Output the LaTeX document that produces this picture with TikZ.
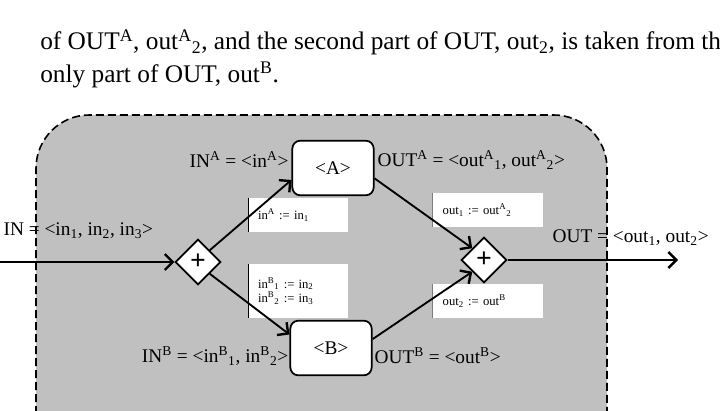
\documentclass[tikz,border=0pt]{standalone}
\usepackage{fontspec}
\setmainfont{Liberation Serif}
\usetikzlibrary{shapes.geometric, arrows.meta, positioning, calc}
\definecolor{regiongray}{HTML}{C0C0C0}
\newcommand{\hi}[1]{\textsuperscript{#1}}
\newcommand{\lo}[1]{\textsubscript{#1}}

\begin{document}
\begin{tikzpicture}[x=0.75pt, y=-0.75pt,
    task/.style={rectangle, rounded corners=6pt, draw, line width=1.3pt, fill=white, minimum width=61pt, minimum height=41pt, font=\fontsize{14.5}{17}\selectfont},
    gate/.style={diamond, draw, line width=1.3pt, fill=white, minimum width=34pt, minimum height=34pt, inner sep=0pt},
    note/.style={rectangle, fill=white, minimum width=75pt, align=left, font=\fontsize{9.5}{11}\selectfont, path picture={\draw[line width=1pt] (path picture bounding box.north west) -- (path picture bounding box.south west);}},
    lbl/.style={font=\fontsize{14.5}{17}\selectfont, inner sep=1pt},
    flow/.style={-{Straight Barb[length=6pt, width=12pt, line width=1.8pt]}, line width=1.4pt}
]
\useasboundingbox (0,0) rectangle (720,410);
\clip (0,0) rectangle (720,410);

% Paragraph text
\node[anchor=base west, inner sep=0pt, font=\fontsize{19}{22}\selectfont] (par1) at (40,50) {of OUT\hi{A}, out\hi{A}\lo{2}, and the second part of OUT, out\lo{2}, is taken from the};
\node[anchor=base west, inner sep=0pt, font=\fontsize{19}{22}\selectfont] (par2) at (40,82) {only part of OUT, out\hi{B}.};

% Region
\draw[dashed, line width=1.2pt, fill=regiongray, rounded corners=40pt, dash pattern=on 6pt off 3pt] (36,450) -- (36,115) -- (607,115) -- (607,450);

% Notes
\node[note, minimum height=26pt, text width=60pt] (noteA) at (298,215) {in\hi{A} := in\lo{1}};
\node[note, minimum height=40pt, text width=60pt] (noteB) at (298,291) {in\hi{B}\lo{1} := in\lo{2}\\in\hi{B}\lo{2} := in\lo{3}};
\node[note, minimum width=83pt, minimum height=26pt, text width=68pt] (noteO1) at (488,210) {out\lo{1} := out\hi{A}\lo{2}};
\node[note, minimum width=83pt, minimum height=26pt, text width=68pt] (noteO2) at (488,301) {out\lo{2} := out\hi{B}};

% Tasks and gates
\node[task] (A) at (333,168) {<A>};
\node[task] (B) at (331,348) {<B>};
\node[gate] (split) at (198,262) {\huge\bfseries +};
\node[gate] (join) at (484,260) {\huge\bfseries +};
\coordinate (start) at (0,262);
\coordinate (end) at (678,260);

% Labels
\node[lbl, anchor=west] (inlbl) at (2,231) {IN = <in\lo{1}, in\lo{2}, in\lo{3}>};
\node[lbl, anchor=east] (inA) at (290,160) {IN\hi{A} = <in\hi{A}>};
\node[lbl, anchor=west] (outA) at (376,160) {OUT\hi{A} = <out\hi{A}\lo{1}, out\hi{A}\lo{2}>};
\node[lbl, anchor=east] (inB) at (290,356) {IN\hi{B} = <in\hi{B}\lo{1}, in\hi{B}\lo{2}>};
\node[lbl, anchor=west] (outB) at (373,356) {OUT\hi{B} = <out\hi{B}>};
\node[lbl, anchor=west] (outlbl) at (551,238) {OUT = <out\lo{1}, out\lo{2}>};

% Flows
\draw[flow] (start) -- (split);
\draw[flow] (split.north east) -- (A.196);
\draw[flow] (split.south east) -- (B.162);
\draw[flow] (A.-14) -- (join.north west);
\draw[flow] (B.12) -- (join.south west);
\draw[flow] (join) -- (end);

\end{tikzpicture}
\end{document}
